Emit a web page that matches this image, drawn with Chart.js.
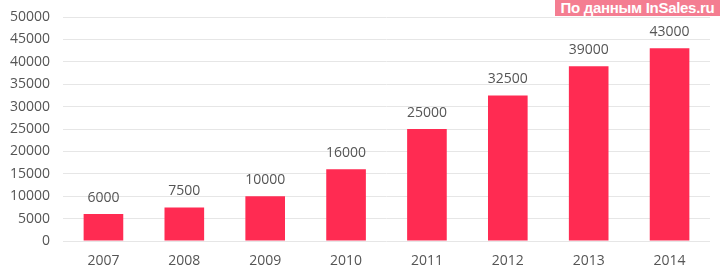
<!DOCTYPE html>
<html>
<head>
<meta charset="utf-8">
<script src="https://cdn.jsdelivr.net/npm/chart.js@4/dist/chart.umd.min.js"></script>
<style>
  html, body { margin: 0; padding: 0; background: #fff; }
  #wrap { position: relative; width: 720px; height: 280px; overflow: hidden; }
  #badge {
    position: absolute; left: 555px; top: 0; width: 165px; height: 16px;
    background: #f47d91; color: #fff; font: bold 15px "Liberation Sans", Arial, sans-serif;
    letter-spacing: -0.3px;
    line-height: 16px; text-align: center; white-space: nowrap; z-index: 2;
  }
</style>
</head>
<body>
<div id="wrap">
  <canvas id="c" width="720" height="280"></canvas>
  <div id="badge">По данным InSales.ru</div>
</div>
<script>
const categories = ["2007", "2008", "2009", "2010", "2011", "2012", "2013", "2014"];
const values = [6000, 7500, 10000, 16000, 25000, 32500, 39000, 43000];
const yTicks = [0, 5000, 10000, 15000, 20000, 25000, 30000, 35000, 40000, 45000, 50000];

const textColor = "#555555";
const fontFamily = "'Open Sans', 'Noto Sans', sans-serif";

const valueLabels = {
  id: "valueLabels",
  afterDatasetsDraw(chart) {
    const ctx = chart.ctx;
    const meta = chart.getDatasetMeta(0);
    ctx.save();
    ctx.fillStyle = textColor;
    ctx.font = "14px " + fontFamily;
    ctx.textAlign = "center";
    ctx.textBaseline = "bottom";
    meta.data.forEach((bar, i) => {
      ctx.fillText(String(chart.data.datasets[0].data[i]), bar.x, bar.y - 9);
    });
    ctx.restore();
  }
};

new Chart(document.getElementById("c"), {
  type: "bar",
  data: {
    labels: categories,
    datasets: [{
      data: values,
      backgroundColor: "#ff2b52",
      borderWidth: 0,
      barPercentage: 0.49,
      categoryPercentage: 1.0
    }]
  },
  options: {
    responsive: false,
    animation: false,
    layout: { padding: { top: 17, right: 10, left: 0, bottom: 0 } },
    plugins: { legend: { display: false }, tooltip: { enabled: false } },
    scales: {
      x: {
        grid: { display: false, drawTicks: false },
        border: { display: false },
        ticks: { color: textColor, font: { family: fontFamily, size: 14 }, padding: 12 },
        afterFit(s) { s.height = 39; s.paddingLeft = 0; s.paddingRight = 0; }
      },
      y: {
        min: 0, max: 50000,
        afterBuildTicks(s) { s.ticks = yTicks.map(v => ({ value: v })); },
        grid: { color: "#e6e6e6", drawTicks: false, lineWidth: 1 },
        border: { display: false },
        ticks: { color: textColor, font: { family: fontFamily, size: 14 }, padding: 13,
                 callback: v => String(v) },
        afterFit(s) { s.width = 63; s.paddingTop = 0; s.paddingBottom = 0; }
      }
    }
  },
  plugins: [valueLabels]
});
</script>
</body>
</html>
